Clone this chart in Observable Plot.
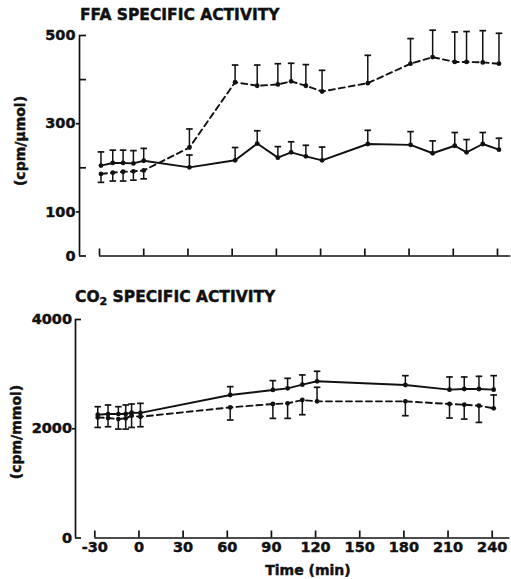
<!DOCTYPE html>
<html><head><meta charset="utf-8">
<script src="https://cdn.jsdelivr.net/npm/d3@7"></script>
<script src="https://cdn.jsdelivr.net/npm/@observablehq/plot@0.6"></script>
<style>
body{margin:0;background:#fff;}
#wrap{position:relative;width:511px;height:579px;overflow:hidden;}
#wrap > svg, #wrap > div{position:absolute;left:0;}
#wrap text{stroke:#111;stroke-width:0.45px;}
</style></head><body><div id="wrap"></div>
<script>
// ---------- Data ----------
const timeTicks = [-30, 0, 30, 60, 90, 120, 150, 180, 210, 240];

// FFA specific activity (cpm/µmol)
const ffaTime        = [-29, -21, -14, -7, 0, 31, 62, 77, 91, 100, 110, 121, 152, 181, 196, 211, 219, 230, 241];
const ffaSolid       = [205, 211, 211, 210, 216, 201, 217, 255, 223, 235, 226, 217, 254, 252, 233, 250, 235, 254, 241];
const ffaSolidErr    = [236, 240, 240, 239, 244, 229, 246, 284, 248, 259, 251, 247, 285, 282, 261, 280, 264, 280, 267];
const ffaDashed      = [186, 189, 191, 192, 194, 246, 394, 386, 389, 396, 386, 373, 392, 436, 451, 440, 440, 439, 436];
const ffaDashedErr   = [167, 170, 170, 172, 175, 288, 433, 433, 436, 437, 434, 421, 455, 493, 512, 508, 509, 511, 505];
const ffaLabelTicks  = [0, 100, 300, 500];
const ffaInnerTicks  = [0, 200, 400, 500];
const ffaOuterTicks  = [100, 300];

// CO2 specific activity (cpm/mmol)
const co2Time        = [-28, -21, -14, -9, -5, 1, 62, 91, 101, 111, 121, 181, 211, 221, 231, 241];
const co2Solid       = [2257, 2269, 2269, 2270, 2294, 2290, 2618, 2710, 2740, 2807, 2869, 2801, 2716, 2728, 2728, 2716];
const co2SolidErr    = [2404, 2435, 2404, 2435, 2453, 2465, 2771, 2881, 2923, 2985, 3052, 2972, 2948, 2948, 2960, 2972];
const co2Dashed      = [2208, 2196, 2177, 2190, 2239, 2220, 2391, 2453, 2465, 2526, 2502, 2502, 2453, 2440, 2422, 2373];
const co2DashedErr   = [2024, 2037, 1994, 1994, 2024, 2037, 2160, 2190, 2190, 2257, 2759, 2239, 2196, 2177, 2116, 2618];
const co2LabelTicks  = [0, 2000, 4000];
const co2InnerTicks  = [0, 4000];
const co2OuterTicks  = [2000];

// ---------- helpers ----------
const rows = (t, v, e) => t.map((d, i) => ({t: d, v: v[i], e: e[i]}));
const cap = {draw(ctx, size) { const w = Math.sqrt(size / Math.PI); ctx.moveTo(-w, 0); ctx.lineTo(w, 0); }};
const font = {fontFamily: "DejaVu Sans", fontSize: "14.5px", fontWeight: "bold", background: "transparent", color: "#000", overflow: "visible"};
const ink = "#111";
const plain = d => String(d);
const blank = () => "";

function series(data, dashed) {
  return [
    Plot.ruleX(data, {x: "t", y1: "v", y2: "e", stroke: ink, strokeWidth: 1.5}),
    Plot.dot(data, {x: "t", y: "e", symbol: cap, r: 3.3, stroke: ink, strokeWidth: 1.7, fill: "none"}),
    Plot.line(data, {x: "t", y: "v", stroke: ink, strokeWidth: 1.9, strokeDasharray: dashed ? "6,4" : null}),
    Plot.dot(data, {x: "t", y: "v", r: 2.4, fill: ink, stroke: "none"})
  ];
}

const wrap = document.getElementById("wrap");

// ---------- Top panel: FFA ----------
const topPlot = Plot.plot({
  width: 511, height: 280,
  marginTop: 35, marginBottom: 24.5, marginLeft: 99, marginRight: 14,
  x: {domain: [-30, 240]},
  y: {domain: [0, 500], label: null},
  style: font,
  marks: [
    Plot.ruleY([0], {x1: -30, x2: 249, stroke: ink, strokeWidth: 1.7}),
    Plot.axisX(timeTicks, {tickSize: -7, tickFormat: blank, strokeWidth: 1.7, stroke: ink, label: null}),
    Plot.ruleX([-30], {y1: 0, y2: 500, dx: -20, stroke: ink, strokeWidth: 1.7}),
    Plot.axisY(ffaLabelTicks, {tickSize: 0, tickPadding: 4, dx: -20, label: null, fill: ink, tickFormat: plain}),
    Plot.axisY(ffaInnerTicks, {tickSize: -7, tickFormat: blank, dx: -20, stroke: ink, strokeWidth: 1.7, label: null}),
    Plot.axisY(ffaOuterTicks, {tickSize: 3, tickFormat: blank, dx: -20, stroke: ink, strokeWidth: 1.7, label: null}),
    ...series(rows(ffaTime, ffaSolid, ffaSolidErr), false),
    ...series(rows(ffaTime, ffaDashed, ffaDashedErr), true)
  ]
});
topPlot.style.top = "0px";
wrap.appendChild(topPlot);

// ---------- Bottom panel: CO2 ----------
const botPlot = Plot.plot({
  width: 511, height: 299,
  marginTop: 39, marginBottom: 41.5, marginLeft: 94.3, marginRight: 19.3,
  x: {domain: [-30, 240]},
  y: {domain: [0, 4000], label: null},
  style: font,
  marks: [
    Plot.ruleY([0], {x1: -30, x2: 252, stroke: ink, strokeWidth: 1.7}),
    Plot.axisX(timeTicks, {tickSize: -7, tickFormat: blank, stroke: ink, strokeWidth: 1.7, label: null}),
    Plot.axisX(timeTicks, {tickSize: 0, tickPadding: 4, label: null, fill: ink, tickFormat: plain}),
    Plot.ruleX([-30], {y1: 0, y2: 4000, dx: -19.3, stroke: ink, strokeWidth: 1.7}),
    Plot.axisY(co2LabelTicks, {tickSize: 0, tickPadding: 3.5, dx: -19.3, label: null, fill: ink, tickFormat: plain}),
    Plot.axisY(co2InnerTicks, {tickSize: -6, tickFormat: blank, dx: -19.3, stroke: ink, strokeWidth: 1.7, label: null}),
    Plot.axisY(co2OuterTicks, {tickSize: 3, tickFormat: blank, dx: -19.3, stroke: ink, strokeWidth: 1.7, label: null}),
    ...series(rows(co2Time, co2Solid, co2SolidErr), false),
    ...series(rows(co2Time, co2Dashed, co2DashedErr), true)
  ]
});
botPlot.style.top = "280px";
wrap.appendChild(botPlot);

// ---------- Titles and axis labels ----------
const ns = "http://www.w3.org/2000/svg";
const ov = document.createElementNS(ns, "svg");
ov.setAttribute("width", 511); ov.setAttribute("height", 579);
ov.style.top = "0px"; ov.style.pointerEvents = "none";
ov.setAttribute("font-family", "DejaVu Sans"); ov.setAttribute("font-weight", "bold"); ov.setAttribute("fill", ink);
ov.innerHTML = `
  <text x="80" y="20" font-size="15.5">FFA SPECIFIC ACTIVITY</text>
  <text x="75" y="302" font-size="15.5">CO<tspan font-size="11" dy="3">2</tspan><tspan dy="-3"> SPECIFIC ACTIVITY</tspan></text>
  <text transform="translate(25,141) rotate(-90)" text-anchor="middle" font-size="14">(cpm/μmol)</text>
  <text transform="translate(21,432) rotate(-90)" text-anchor="middle" font-size="14">(cpm/mmol)</text>
  <text x="308" y="575" text-anchor="middle" font-size="14">Time (min)</text>`;
wrap.appendChild(ov);
</script>
</body></html>
